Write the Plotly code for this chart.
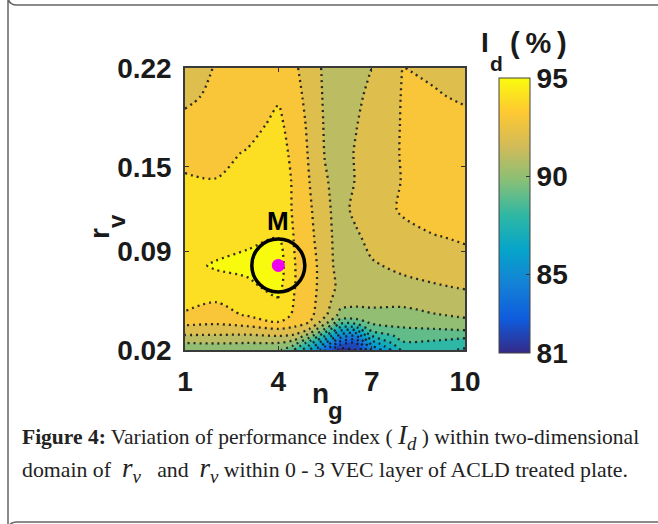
import plotly.graph_objects as go

# ---------------- data ----------------
ng = [1, 2, 3, 4, 4.5, 5, 5.5, 6, 6.5, 7, 8, 9, 10]
rv = [0.02, 0.025, 0.03, 0.035, 0.04, 0.045, 0.055, 0.065, 0.08, 0.10,
      0.12, 0.14, 0.16, 0.18, 0.20, 0.22]
# Id (%) : one row per rv value, one column per ng value
Id = [
    [90.3, 90.4, 90.4, 90.2, 89.0, 87.0, 84.0, 81.5, 82.0, 85.0, 88.2, 88.4, 87.8],
    [91.0, 91.05, 91.0, 91.0, 90.5, 88.5, 86.0, 83.5, 83.0, 86.5, 88.9, 88.8, 88.6],
    [91.9, 91.9, 91.85, 92.0, 91.8, 90.5, 88.0, 85.5, 85.0, 88.0, 89.4, 89.4, 89.2],
    [92.7, 92.6, 92.7, 93.0, 92.8, 92.0, 90.0, 87.5, 87.5, 89.5, 89.9, 90.0, 90.2],
    [93.3, 93.2, 93.5, 94.05, 93.5, 93.0, 91.5, 89.5, 89.6, 90.2, 90.4, 90.6, 90.8],
    [93.9, 93.6, 94.1, 94.4, 93.9, 93.3, 92.2, 90.7, 90.6, 90.7, 90.7, 90.95, 91.15],
    [94.3, 94.05, 94.5, 94.9, 93.98, 93.4, 92.4, 91.4, 91.3, 91.3, 91.25, 91.5, 91.6],
    [94.55, 94.7, 94.8, 95.3, 94.05, 93.45, 92.5, 91.75, 91.6, 91.6, 91.75, 91.9, 92.1],
    [94.8, 95.08, 95.25, 95.5, 94.05, 93.5, 92.45, 91.6, 91.75, 91.9, 92.2, 92.5, 92.7],
    [94.5, 94.6, 94.8, 94.98, 93.98, 93.25, 92.42, 91.5, 91.85, 92.3, 92.75, 92.95, 93.1],
    [94.4, 94.5, 94.7, 94.85, 93.85, 93.15, 92.2, 91.65, 92.25, 92.6, 93.1, 93.45, 93.45],
    [94.15, 94.02, 94.5, 94.7, 93.85, 93.0, 92.1, 91.6, 92.05, 92.6, 93.03, 93.5, 93.5],
    [93.6, 93.8, 94.05, 94.5, 93.7, 92.9, 91.95, 91.5, 92.1, 92.6, 93.05, 93.5, 93.45],
    [93.25, 93.5, 93.7, 94.2, 93.6, 92.8, 91.9, 91.5, 91.95, 92.5, 93.05, 93.4, 93.3],
    [92.8, 93.2, 93.65, 93.9, 93.35, 92.7, 91.85, 91.55, 91.75, 92.3, 93.05, 93.1, 92.85],
    [92.6, 93.05, 93.5, 93.6, 93.15, 92.6, 91.8, 91.55, 91.6, 92.0, 93.02, 92.8, 92.6],
]
x_ticks = [1, 4, 7, 10]
y_ticks = [0.02, 0.09, 0.15, 0.22]
y_ticklabels = ["0.02", "0.09", "0.15", "0.22"]
cbar_ticks = [81, 85, 90, 95]
Id_min, Id_max, Id_step = 81, 95, 1
M_ng = [4]
M_rv = [0.08]

# ---------------- style ----------------
PARULA = ['#352a87', '#0f5cdd', '#1481d6', '#06a4ca', '#2eb7a4',
          '#87bf77', '#d1bb59', '#fec832', '#f9fb0e']


def _rgb(h):
    return tuple(int(h[i:i + 2], 16) for i in (1, 3, 5))


def parula(t):
    t = min(max(t, 0.0), 1.0)
    n = len(PARULA) - 1
    i = min(int(t * n), n - 1)
    f = t * n - i
    a, b = _rgb(PARULA[i]), _rgb(PARULA[i + 1])
    c = [round(a[k] + (b[k] - a[k]) * f) for k in range(3)]
    return f"rgb({c[0]},{c[1]},{c[2]})"


n_lev = int((Id_max - Id_min) / Id_step) + 1
# band [L, L+1] is painted with parula(L) (MATLAB contourf convention)
cs_fill = [[0.0, parula(0)]] + [
    [(k + 1) / (n_lev + 0.0), parula(k / (n_lev - 1))] for k in range(n_lev)]
cs_cont = [[i / (len(PARULA) - 1), c] for i, c in enumerate(PARULA)]

SANS = "Liberation Sans, Arial, Helvetica, sans-serif"
SERIF = "Liberation Serif, Times New Roman, serif"
INK = "#1a1a1a"

L, R, T, B = 185, 193, 68, 174
W, H = 658, 524
PW, PH = W - L - R, H - T - B


def px2x(px):
    return (px - L) / PW


def py2y(py):
    return (H - B - py) / PH


fig = go.Figure()

fig.add_trace(go.Contour(
    x=ng, y=rv, z=Id,
    autocontour=False,
    contours=dict(start=Id_min, end=Id_max, size=Id_step,
                  coloring='fill', showlines=True),
    colorscale=cs_fill,
    line=dict(color='rgba(25,25,25,0.9)', width=2.3, dash='2px,4px', smoothing=0.9),
    showscale=False, hoverinfo='skip'))

# continuous colour bar
fig.add_trace(go.Scatter(
    x=[ng[0], ng[0]], y=[rv[0], rv[0]], mode='markers', hoverinfo='skip',
    showlegend=False,
    marker=dict(size=0, opacity=0, color=[Id_min, Id_max], colorscale=cs_cont,
                cmin=Id_min, cmax=Id_max, showscale=True,
                colorbar=dict(
                    thickness=31, thicknessmode='pixels',
                    len=275, lenmode='pixels',
                    x=px2x(499), xanchor='left', xref='paper',
                    y=py2y(78), yanchor='top', yref='paper',
                    xpad=0, ypad=0,
                    outlinecolor='#444', outlinewidth=1,
                    ticks='inside', ticklen=4, tickcolor='#333',
                    tickvals=cbar_ticks,
                    ticktext=[str(v) for v in cbar_ticks],
                    tickfont=dict(family=SANS, size=28, color=INK, weight='bold')))))

# optimum point M
fig.add_trace(go.Scatter(
    x=M_ng, y=M_rv, mode='markers', hoverinfo='skip', showlegend=False,
    marker=dict(symbol='circle-open', size=53, color='black',
                line=dict(width=3.5, color='black'))))
fig.add_trace(go.Scatter(
    x=M_ng, y=M_rv, mode='markers', hoverinfo='skip', showlegend=False,
    marker=dict(symbol='circle', size=13, color='#f000f0', line=dict(width=0))))

axis_common = dict(showline=True, linecolor='#3a3a3a', linewidth=1.5, mirror='ticks',
                   ticks='inside', ticklen=4, tickcolor='#333', showgrid=False,
                   zeroline=False,
                   tickfont=dict(family=SANS, size=28, color=INK, weight='bold'))

fig.update_xaxes(range=[ng[0], ng[-1]], tickvals=x_ticks,
                 ticktext=[str(v) for v in x_ticks], ticklabelstandoff=6,
                 **axis_common)
fig.update_yaxes(range=[rv[0], rv[-1]], tickvals=y_ticks, ticktext=y_ticklabels,
                 ticklabelstandoff=6, **axis_common)


def label(text, px, py, size, angle=0):
    return dict(x=px2x(px), y=py2y(py), xref='paper', yref='paper', text=text,
                xanchor='center', yanchor='middle', showarrow=False, textangle=angle,
                font=dict(family=SANS, size=size, color=INK, weight='bold'))


ann = []
ann.append(dict(x=M_ng[0], y=M_rv[0], xref='x', yref='y', text='M', showarrow=False,
                xanchor='center', yanchor='middle',
                yshift=44, font=dict(family=SANS, size=26, color='black', weight='bold')))
# axis titles
ann.append(label('n', 320, 393, 28))
ann.append(label('g', 335, 410, 24))
ann.append(label('r', 99, 234, 28, -90))
ann.append(label('v', 116, 221, 24, -90))
# colour bar title
ann.append(label('I', 485, 43, 28))
ann.append(label('d', 496, 64, 21))
ann.append(label('(\u2009%\u2009)', 538, 43, 29))

# caption
NB = '\u00a0'
big = "<span style='font-size:27px'>"
cap1 = ("<b>Figure 4:</b> Variation of performance index ( <i>" + big + "I<sub>d</sub></span></i>"
        " ) within two-dimensional")
cap2 = ("domain of " + NB + "<i>" + big + "r<sub>v</sub></span></i>" + NB * 3 + "and " + NB +
        "<i>" + big + "r<sub>v</sub></span></i> within 0 - 3 VEC layer of ACLD treated plate.")
ann.append(dict(x=px2x(20), y=py2y(437), xref='paper', yref='paper', text=cap1,
                xanchor='left', yanchor='middle', showarrow=False,
                font=dict(family=SERIF, size=21.5, color='#222')))
ann.append(dict(x=px2x(20), y=py2y(470), xref='paper', yref='paper', text=cap2,
                xanchor='left', yanchor='middle', showarrow=False,
                font=dict(family=SERIF, size=21.8, color='#222')))

# rounded frame around the figure
x0, x1 = px2x(8), px2x(690)
y0, y1 = py2y(5), py2y(522)
rx, ry = 9 / PW, 9 / PH
frame = (f"M {x0},{y0 + ry} L {x0},{y1 - ry} Q {x0},{y1} {x0 + rx},{y1} "
         f"L {x1},{y1} L {x1},{y0} L {x0 + rx},{y0} Q {x0},{y0} {x0},{y0 + ry} Z")
fig.add_shape(type='path', path=frame, xref='paper', yref='paper',
              line=dict(color='#666', width=1.5), fillcolor='rgba(0,0,0,0)', layer='below')

fig.update_layout(
    width=W, height=H, autosize=False,
    margin=dict(l=L, r=R, t=T, b=B, pad=0),
    paper_bgcolor='white', plot_bgcolor='white',
    showlegend=False, annotations=ann,
    font=dict(family=SANS, color=INK))

fig.write_html("out.html", config={'displayModeBar': False},
               post_script="document.body.style.margin='0';")
